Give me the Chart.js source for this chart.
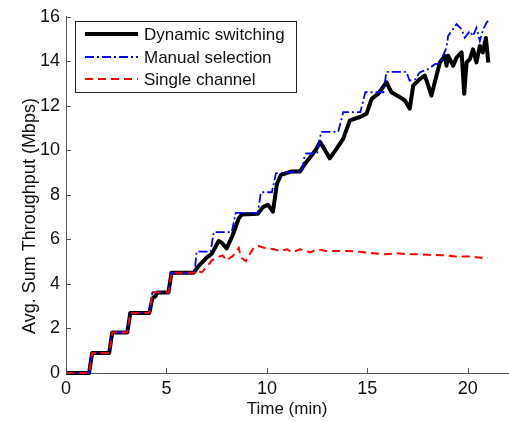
<!DOCTYPE html>
<html>
<head>
<meta charset="utf-8">
<script src="https://cdn.jsdelivr.net/npm/chart.js@4/dist/chart.umd.min.js"></script>
<style>
  html, body { margin: 0; padding: 0; background: #fff; }
  #wrap { width: 509px; height: 421px; }
</style>
</head>
<body>
<div id="wrap"><canvas id="c" width="509" height="421"></canvas></div>
<script>
// Series labels
const seriesLabels = ['Dynamic switching', 'Manual selection', 'Single channel'];

// Dynamic switching: time (min) and throughput (Mbps)
const dynTime = [0, 1.15, 1.3, 2.15, 2.3, 3.05, 3.2, 4.15, 4.3, 4.45, 4.55, 5.1, 5.25, 6.35,
  6.6, 7.0, 7.25, 7.6, 7.75, 8.0, 8.3, 8.6, 8.75, 9.55, 9.8, 10.05, 10.3, 10.5, 10.7, 11.2,
  11.64, 11.9, 12.2, 12.45, 12.64, 12.9, 13.13, 13.47, 13.8, 14.13, 14.63, 14.96, 15.21,
  15.54, 15.95, 16.2, 16.62, 16.87, 17.11, 17.28, 17.61, 17.86, 18.03, 18.19, 18.44, 18.61,
  18.86, 18.94, 19.02, 19.27, 19.44, 19.69, 19.82, 19.94, 20.1, 20.26, 20.43, 20.6, 20.75,
  20.9, 21.02];
const dynMbps = [0, 0, 0.9, 0.9, 1.82, 1.82, 2.7, 2.7, 3.35, 3.45, 3.62, 3.62, 4.5, 4.5,
  4.8, 5.18, 5.35, 5.93, 5.85, 5.6, 6.2, 6.95, 7.12, 7.15, 7.45, 7.56, 7.25, 8.5, 8.9, 9.05,
  9.05, 9.4, 9.75, 10.05, 10.38, 10.0, 9.64, 10.08, 10.53, 11.35, 11.5, 11.65, 12.31,
  12.54, 13.06, 12.61, 12.39, 12.24, 11.87, 12.91, 13.2, 13.36, 12.91, 12.46, 13.36, 13.95,
  14.25, 13.8, 14.25, 13.8, 14.17, 14.4, 12.54, 13.95, 14.1, 14.54, 13.95, 14.69, 14.4,
  15.05, 13.95];

// Manual selection
const manTime = [0, 1.15, 1.3, 2.15, 2.3, 3.05, 3.2, 4.15, 4.3, 5.1, 5.25, 6.4, 6.5, 7.2,
  7.35, 8.25, 8.45, 9.55, 9.7, 10.25, 10.45, 11.75, 11.85, 11.95, 12.5, 12.7, 13.55, 13.8,
  14.65, 14.9, 15.8, 15.95, 16.95, 17.1, 17.4, 17.6, 18.03, 18.36, 18.6, 18.94, 19.02,
  19.44, 19.69, 19.85, 20.1, 20.26, 20.43, 20.6, 20.77, 20.93, 21.04];
const manMbps = [0, 0, 0.9, 0.9, 1.82, 1.82, 2.7, 2.7, 3.62, 3.62, 4.5, 4.5, 5.45, 5.45,
  6.33, 6.33, 7.19, 7.19, 8.12, 8.12, 8.97, 9.05, 9.64, 9.86, 9.86, 10.83, 10.83, 11.72,
  11.72, 12.61, 12.61, 13.53, 13.53, 13.13, 13.2, 13.5, 13.65, 13.87, 13.9, 14.62, 15.14,
  15.67, 15.44, 15.06, 15.36, 15.14, 15.51, 14.92, 15.44, 15.73, 15.86];

// Single channel
const sglTime = [0, 1.15, 1.3, 2.15, 2.3, 3.05, 3.2, 4.15, 4.3, 5.1, 5.25, 6.4, 6.5, 6.75,
  7.0, 7.25, 7.55, 7.8, 8.0, 8.2, 8.3, 8.6, 8.7, 8.95, 9.35, 9.6, 9.85, 10.3, 10.65, 11.0,
  11.25, 11.65, 12.15, 12.5, 12.95, 13.6, 14.1, 14.7, 15.3, 15.85, 16.45, 17.0, 17.6, 18.2,
  18.75, 19.4, 20.1, 20.65, 21.0];
const sglMbps = [0, 0, 0.9, 0.9, 1.82, 1.82, 2.7, 2.7, 3.62, 3.62, 4.5, 4.5, 4.62, 4.52,
  4.75, 5.05, 5.2, 5.28, 5.05, 5.2, 5.25, 5.62, 5.2, 5.02, 5.65, 5.7, 5.63, 5.57, 5.48, 5.56,
  5.41, 5.56, 5.42, 5.56, 5.48, 5.48, 5.48, 5.44, 5.38, 5.33, 5.38, 5.33, 5.33, 5.3,
  5.29, 5.23, 5.23, 5.18, 5.18];

// Axis ticks
const xTicks = [0, 5, 10, 15, 20];
const yTicks = [0, 2, 4, 6, 8, 10, 12, 14, 16];

const toPoints = (ts, vs) => ts.map((t, i) => ({ x: t, y: vs[i] }));

const FONT = 'Liberation Sans, Arial, Helvetica, sans-serif';
const AXIS_COLOR = '#555';
const TEXT_COLOR = '#111';

// Inward tick marks, axis titles and boxed legend inside the plot
const decor = {
  id: 'decor',
  afterDraw(chart) {
    const ctx = chart.ctx;
    const xs = chart.scales.x, ys = chart.scales.y;
    const area = chart.chartArea;
    ctx.save();
    ctx.strokeStyle = AXIS_COLOR;
    ctx.lineWidth = 1;
    ctx.beginPath();
    xTicks.forEach(v => {
      const px = Math.round(xs.getPixelForValue(v)) + 0.5;
      ctx.moveTo(px, area.bottom);
      ctx.lineTo(px, area.bottom - 5);
    });
    yTicks.forEach(v => {
      const py = Math.round(ys.getPixelForValue(v)) + 0.5;
      ctx.moveTo(area.left, py);
      ctx.lineTo(area.left + 5, py);
    });
    ctx.stroke();

    // Axis titles
    ctx.fillStyle = TEXT_COLOR;
    ctx.font = '17px ' + FONT;
    ctx.textAlign = 'center';
    ctx.textBaseline = 'middle';
    ctx.fillText('Time (min)', (area.left + area.right) / 2, 409);
    ctx.save();
    ctx.translate(30, 216);
    ctx.rotate(-Math.PI / 2);
    ctx.font = '18px ' + FONT;
    ctx.fillText('Avg. Sum Throughput (Mbps)', 0, 0);
    ctx.restore();

    // Legend
    const bx = 75, by = 21, bw = 221, bh = 71;
    ctx.fillStyle = '#fff';
    ctx.fillRect(bx, by, bw, bh);
    ctx.strokeStyle = '#222';
    ctx.lineWidth = 1;
    ctx.strokeRect(bx + 0.5, by + 0.5, bw, bh);
    const rows = [34, 57, 79];
    chart.data.datasets.forEach((ds, i) => {
      const y = rows[i];
      ctx.save();
      ctx.strokeStyle = ds.borderColor;
      ctx.lineWidth = ds.borderWidth;
      ctx.setLineDash(ds.borderDash || []);
      ctx.beginPath();
      ctx.moveTo(85, y);
      ctx.lineTo(138, y);
      ctx.stroke();
      ctx.restore();
      ctx.fillStyle = TEXT_COLOR;
      ctx.font = '17px ' + FONT;
      ctx.textAlign = 'left';
      ctx.textBaseline = 'middle';
      ctx.fillText(ds.label, 144, y + 1);
    });
    ctx.restore();
  }
};

new Chart(document.getElementById('c'), {
  type: 'line',
  data: {
    datasets: [
      {
        label: seriesLabels[0],
        data: toPoints(dynTime, dynMbps),
        borderColor: '#000',
        borderWidth: 4,
        borderJoinStyle: 'round',
        order: 2
      },
      {
        label: seriesLabels[1],
        data: toPoints(manTime, manMbps),
        borderColor: '#0000ff',
        borderWidth: 1.8,
        borderDash: [9, 3, 2, 3],
        order: 1
      },
      {
        label: seriesLabels[2],
        data: toPoints(sglTime, sglMbps),
        borderColor: '#ff0000',
        borderWidth: 2,
        borderDash: [8, 5],
        order: 0
      }
    ]
  },
  options: {
    responsive: false,
    animation: false,
    devicePixelRatio: 1,
    clip: false,
    elements: { point: { radius: 0 }, line: { tension: 0, fill: false } },
    layout: { padding: { top: 14, right: 1, left: 0, bottom: 0 } },
    plugins: { legend: { display: false }, tooltip: { enabled: false }, title: { display: false } },
    scales: {
      x: {
        type: 'linear',
        min: 0,
        max: 22,
        grid: { display: false, drawTicks: false },
        border: { display: true, color: AXIS_COLOR, width: 1 },
        afterBuildTicks: s => { s.ticks = xTicks.map(v => ({ value: v })); },
        afterFit: s => { s.height = 48; },
        ticks: {
          color: TEXT_COLOR,
          font: { family: FONT, size: 18 },
          padding: 5,
          maxRotation: 0,
          autoSkip: false
        }
      },
      y: {
        type: 'linear',
        min: 0,
        max: 16,
        grid: { display: false, drawTicks: false },
        border: { display: true, color: AXIS_COLOR, width: 1 },
        afterBuildTicks: s => { s.ticks = yTicks.map(v => ({ value: v })); },
        afterFit: s => { s.width = 66; },
        ticks: {
          color: TEXT_COLOR,
          font: { family: FONT, size: 18 },
          padding: 6,
          autoSkip: false
        }
      }
    }
  },
  plugins: [decor]
});
</script>
</body>
</html>
